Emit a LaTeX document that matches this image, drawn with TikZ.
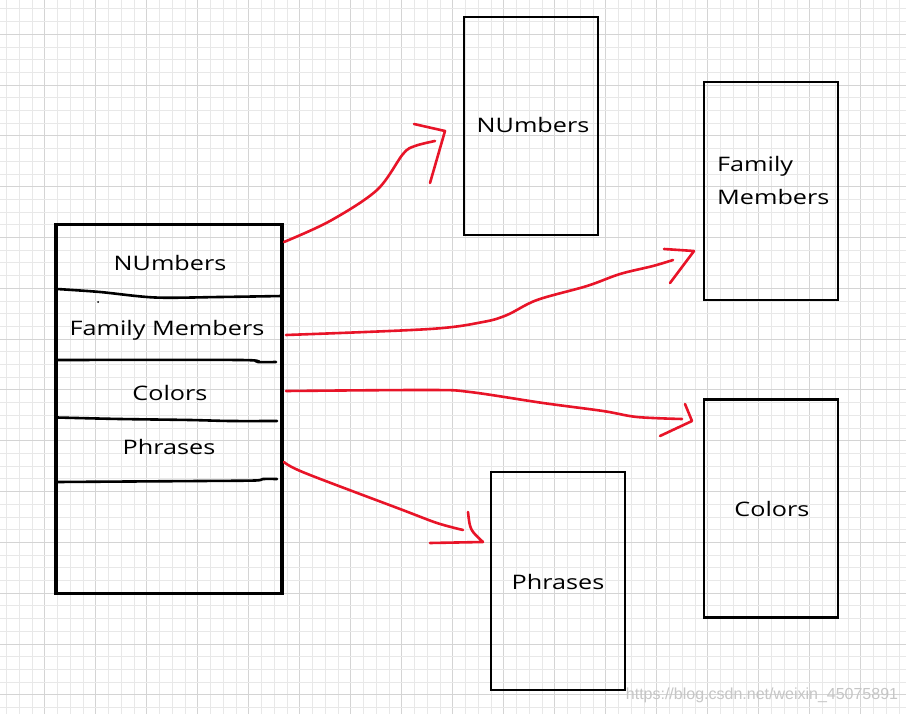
\documentclass[tikz,border=0pt]{standalone}
\usepackage{fontspec}
\usepackage{graphicx}
\newfontfamily\handfont{Open Sans}
\newfontfamily\wmfont{Liberation Sans}
\definecolor{penred}{RGB}{232,20,40}
\definecolor{gridminor}{RGB}{232,232,232}
\definecolor{gridmajor}{RGB}{212,212,212}
\newcommand{\hand}[1]{{\handfont\fontsize{20}{25}\selectfont\scalebox{1.26}[1]{#1}}}
\tikzset{
  leftbox/.style={draw=black, line width=3.5pt, minimum width=226pt, minimum height=369pt, inner sep=0pt},
  outbox/.style={draw=black, line width=2.2pt, minimum width=134pt, minimum height=218pt, inner sep=0pt},
  divider/.style={draw=black, line width=2.6pt, line cap=round},
  lbl/.style={inner sep=0pt, text=black},
  penline/.style={draw=penred, line width=2.6pt, line cap=round, line join=round},
}
\begin{document}
\begin{tikzpicture}[x=1pt,y=-1pt]
\useasboundingbox (0,0) rectangle (906,714);
\fill[white] (0,0) rectangle (906,714);
% grid
\foreach \k in {0,...,70} {
  \pgfmathsetmacro\xx{6.7+12.75*\k}
  \pgfmathtruncatemacro\m{mod(\k,4)}
  \ifnum\m=3
    \draw[gridmajor, line width=1pt] (\xx,0) -- (\xx,714);
  \else
    \draw[gridminor, line width=1pt] (\xx,0) -- (\xx,714);
  \fi
}
\foreach \k in {0,...,55} {
  \pgfmathsetmacro\yy{9+12.7*\k}
  \pgfmathtruncatemacro\m{mod(\k,4)}
  \ifnum\m=2
    \draw[gridmajor, line width=1pt] (0,\yy) -- (906,\yy);
  \else
    \draw[gridminor, line width=1pt] (0,\yy) -- (906,\yy);
  \fi
}
% left list box
\node[leftbox] (left) at (169,409) {};
\draw[divider] plot[smooth, tension=0.5] coordinates {(57,289) (100,292) (155,297.5) (220,297) (282,296)};
\draw[divider] plot[smooth, tension=0.5] coordinates {(57,360) (240,360) (258,362) (276,362)};
\draw[divider] plot[smooth, tension=0.5] coordinates {(57,417.5) (120,419) (190,420) (230,421) (277,421)};
\draw[divider] plot[smooth, tension=0.5] coordinates {(57,482) (200,481) (255,480.5) (263,479) (277,479)};
\fill[black] (98,302) circle (1pt);
\node[lbl] (lnum) at (170,263) {\hand{NUmbers}};
\node[lbl] (lfam) at (167,330) {\hand{Family Members}};
\node[lbl] (lcol) at (170,393) {\hand{Colors}};
\node[lbl] (lphr) at (169,447) {\hand{Phrases}};
% target boxes
\node[outbox] (numbox) at (531,126) {};
\node[lbl] (numtxt) at (533,125) {\hand{NUmbers}};
\node[outbox] (fambox) at (771,191) {};
\node[lbl, anchor=west] (famtxt1) at (717,166) {\hand{Family}};
\node[lbl, anchor=west] (famtxt2) at (717,197) {\hand{Members}};
\node[outbox] (colbox) at (771,508.5) {};
\node[lbl] (coltxt) at (772,509) {\hand{Colors}};
\node[outbox] (phrbox) at (558,581) {};
\node[lbl] (phrtxt) at (558,582) {\hand{Phrases}};
% arrow end points
\coordinate (s1) at (284,242);
\coordinate (e1) at (435,141);
\coordinate (s2) at (286,335);
\coordinate (e2) at (673,260);
\coordinate (s3) at (286,391);
\coordinate (e3) at (682,419);
\coordinate (s4) at (284,462);
\coordinate (e4) at (463,530);
% arrow 1
\draw[penline] plot[smooth, tension=0.55] coordinates {(s1) (330,221) (377,190) (403,154) (415,146) (e1)};
\draw[penline] (414,124) -- (445,131) -- (430,183);
% arrow 2
\draw[penline] plot[smooth, tension=0.55] coordinates {(s2) (430,329) (483,322) (507,315) (537,300) (587,286) (620,274) (653,266) (e2)};
\draw[penline] (664,249) -- (694,251) -- (670,283);
% arrow 3
\draw[penline] plot[smooth, tension=0.55] coordinates {(s3) (430,390) (470,392) (543,403) (603,411) (637,417) (e3)};
\draw[penline] (685,404) .. controls (688,412) .. (692,421) -- (660,436);
% arrow 4
\draw[penline] plot[smooth, tension=0.55] coordinates {(s4) (305,473) (400,509) (437,523) (e4)};
\draw[penline] (468,512) .. controls (470,530) .. (483,542) -- (430,543);
% watermark
\node[inner sep=0pt, text=gray!45, font=\wmfont\fontsize{16}{19}\selectfont] (wm) at (762,695) {https://blog.csdn.net/weixin\_45075891};
\end{tikzpicture}
\end{document}
